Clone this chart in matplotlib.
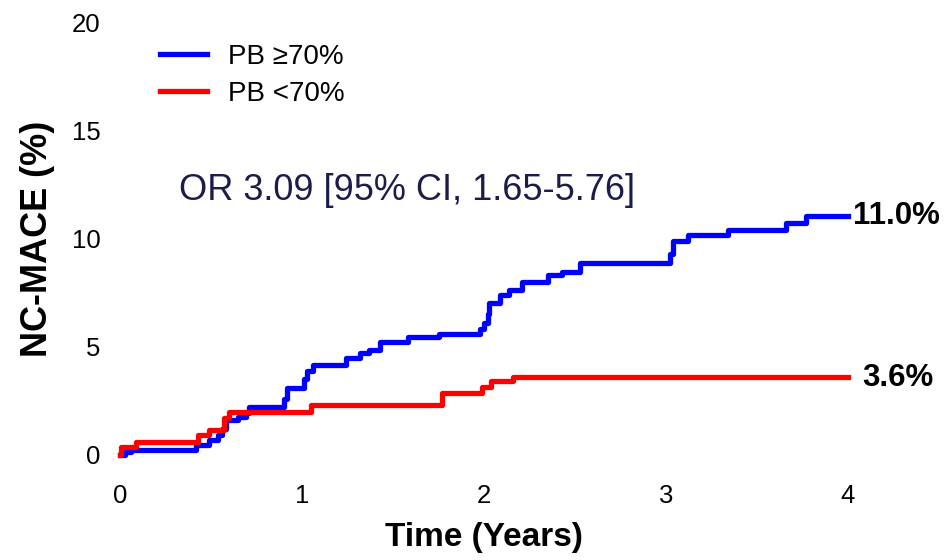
import matplotlib
matplotlib.use('Agg')
import matplotlib.pyplot as plt

plt.rcParams['font.family'] = ['Liberation Sans', 'DejaVu Sans']

# Kaplan-Meier style cumulative incidence (step, post)
BLUE_T = [0.0, 0.03, 0.06, 0.42, 0.49, 0.54, 0.56, 0.58, 0.65, 0.69, 0.71,
          0.90, 0.92, 1.01, 1.03, 1.06, 1.24, 1.32, 1.37, 1.43, 1.58, 1.75,
          1.98, 2.00, 2.02, 2.03, 2.09, 2.14, 2.21, 2.35, 2.43, 2.53, 3.02,
          3.04, 3.12, 3.34, 3.66, 3.77, 4.0]
BLUE_V = [0.0, 0.12, 0.23, 0.46, 0.7, 0.92, 1.2, 1.6, 1.75, 1.95, 2.2,
          2.6, 3.1, 3.5, 3.9, 4.15, 4.5, 4.7, 4.85, 5.2, 5.45, 5.6,
          5.8, 6.1, 6.5, 7.0, 7.4, 7.6, 8.0, 8.3, 8.45, 8.85, 9.3,
          9.9, 10.15, 10.4, 10.7, 11.05, 11.05]

RED_T = [0.0, 0.005, 0.09, 0.43, 0.49, 0.57, 0.60, 1.05, 1.77, 1.99, 2.04, 2.16, 4.0]
RED_V = [0.0, 0.37, 0.6, 0.92, 1.15, 1.7, 2.0, 2.3, 2.85, 3.15, 3.4, 3.6, 3.6]

LABELS = ['PB \u226570%', 'PB <70%']
END_LABELS = ['11.0%', '3.6%']
OR_TEXT = 'OR 3.09 [95% CI, 1.65-5.76]'

fig = plt.figure(figsize=(9.44, 5.6), dpi=100)
ax = fig.add_axes([120 / 944, 1 - 455 / 560, 728 / 944, 433 / 560])

ax.step(BLUE_T, BLUE_V, where='post', color='#0000ff', lw=3.8,
        label=LABELS[0], clip_on=False, zorder=3)
ax.step(RED_T, RED_V, where='post', color='#ff0000', lw=3.8,
        label=LABELS[1], clip_on=False, zorder=4)

ax.set_xlim(0, 4)
ax.set_ylim(0, 20)
ax.set_xticks([0, 1, 2, 3, 4])
ax.set_yticks([0, 5, 10, 15, 20])
for s in ax.spines.values():
    s.set_visible(False)
ax.tick_params(axis='x', length=0, pad=21, labelsize=18.5)
ax.tick_params(axis='y', length=0, pad=14, labelsize=18.5)

ax.set_xlabel('Time (Years)', fontsize=24, fontweight='bold', labelpad=10)
ax.set_ylabel('NC-MACE (%)', fontsize=26, fontweight='bold', labelpad=12)

ax.text(4.03, BLUE_V[-1], END_LABELS[0], fontsize=22.5, fontweight='bold',
        ha='left', va='center', clip_on=False)
ax.text(4.08, RED_V[-1] - 0.05, END_LABELS[1], fontsize=22.5, fontweight='bold',
        ha='left', va='center', clip_on=False)

ax.text(1.58, 12.24, OR_TEXT, fontsize=26, color='#1c1c4c',
        ha='center', va='center')

ax.legend(loc='upper left', bbox_to_anchor=(160 / 944, 1 - 44 / 560),
          bbox_transform=fig.transFigure, frameon=False, fontsize=20,
          handlelength=1.7, handletextpad=0.75, labelspacing=0.4,
          borderpad=0, borderaxespad=0)

fig.savefig('out.png', dpi=100, facecolor='white')
